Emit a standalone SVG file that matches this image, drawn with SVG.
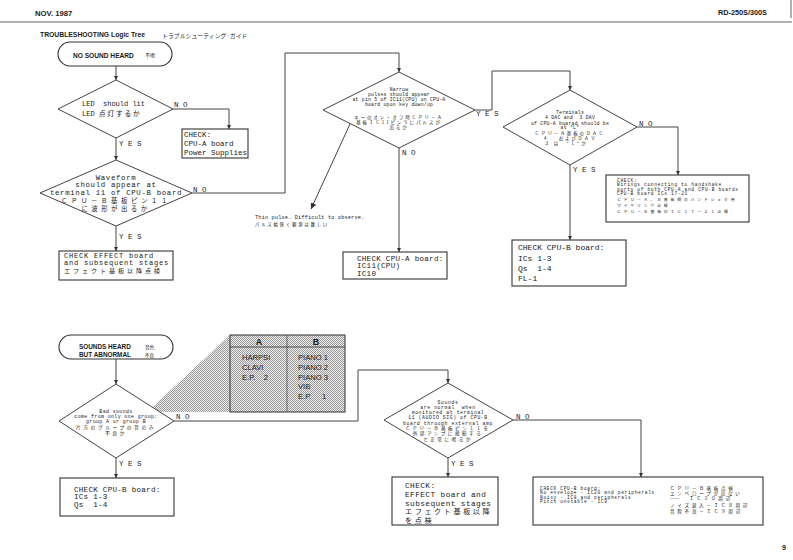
<svg xmlns="http://www.w3.org/2000/svg" width="793" height="560" viewBox="0 0 793 560">
<defs>
<style>
.bg{fill:#fff}
.ln{fill:none;stroke:#444;stroke-width:1}
.bx{fill:#fff;stroke:#333;stroke-width:1.1}
.dm{fill:#fff;stroke:#444;stroke-width:1}
.tw{font-family:"Liberation Mono","Noto Sans CJK JP",monospace;fill:#1a1a1a;white-space:pre}
.jp{font-family:"Noto Sans CJK JP",sans-serif;fill:#1a1a1a;white-space:pre}
.sb{font-family:"Liberation Sans","Noto Sans CJK JP",sans-serif;font-weight:bold;fill:#1a1a1a}
.sn{font-family:"Liberation Sans",sans-serif;fill:#222}
.c{text-anchor:middle}
</style>
<marker id="ah" viewBox="0 0 6 6" refX="6" refY="3" markerWidth="4" markerHeight="4" orient="auto" markerUnits="userSpaceOnUse">
<path d="M0,0 L6,3 L0,6 z" fill="#333"/>
</marker>
<marker id="ah2" viewBox="0 0 6 6" refX="6" refY="3" markerWidth="6" markerHeight="6" orient="auto" markerUnits="userSpaceOnUse">
<path d="M0,0 L6,3 L0,6 z" fill="#333"/>
</marker>
<pattern id="dots" width="2" height="2" patternUnits="userSpaceOnUse">
<rect width="2" height="2" fill="#eeeeee"/>
<rect width="1" height="1" fill="#9a9a9a"/>
<rect x="1" y="1" width="1" height="1" fill="#9a9a9a"/>
</pattern>
</defs>
<rect class="bg" width="793" height="560"/>

<g id="header">
<text class="sb" x="35" y="16" font-size="7.7">NOV. 1987</text>
<text class="sb" x="767" y="15" font-size="7.3" text-anchor="end">RD-250S/300S</text>
<line x1="0" y1="22" x2="792" y2="22" stroke="#666" stroke-width="1.2"/>
<line x1="791" y1="0" x2="791" y2="18" stroke="#666" stroke-width="1"/>
<text class="sb" x="40" y="37" font-size="6.8">TROUBLESHOOTING Logic Tree</text>
<text class="jp" x="162" y="37.5" font-size="5.9">トラブルシューティング·ガイド</text>
<text class="sb" x="786" y="550" font-size="7" text-anchor="end">9</text>
</g>

<g id="connectors">
<path class="ln" d="M116,66 V80" marker-end="url(#ah)"/>
<path class="ln" d="M173,109 H229 V129" marker-end="url(#ah)"/>
<path class="ln" d="M116,138 V160" marker-end="url(#ah)"/>
<path class="ln" d="M192,193 H285 V53 H399 V72" marker-end="url(#ah)"/>
<path class="ln" d="M116,226 V251" marker-end="url(#ah)"/>
<path class="ln" d="M475,110 H492 V71 H570 V90" marker-end="url(#ah)"/>
<path class="ln" d="M399,148 V252" marker-end="url(#ah)"/>
<path class="ln" d="M350,124 L311,209" marker-end="url(#ah2)"/>
<path class="ln" d="M637,127 H678 V175" marker-end="url(#ah)"/>
<path class="ln" d="M570,165 V240" marker-end="url(#ah)"/>
<path class="ln" d="M116,359 V384" marker-end="url(#ah)"/>
<path class="ln" d="M116,458 V478" marker-end="url(#ah)"/>
<path class="ln" d="M174,421 H358 V370 H448 V383" marker-end="url(#ah)"/>
<path class="ln" d="M448,458 V477" marker-end="url(#ah)"/>
<path class="ln" d="M513,420 H641 V477" marker-end="url(#ah)"/>
<text class="tw" x="174" y="107" font-size="7.5">N O</text>
<text class="tw" x="119" y="146" font-size="7.5">Y E S</text>
<text class="tw" x="193" y="192" font-size="7.5">N O</text>
<text class="tw" x="119" y="239" font-size="7.5">Y E S</text>
<text class="tw" x="476" y="116" font-size="7.5">Y E S</text>
<text class="tw" x="402" y="155" font-size="7.5">N O</text>
<text class="tw" x="639" y="126" font-size="7.5">N O</text>
<text class="tw" x="573" y="172" font-size="7.5">Y E S</text>
<text class="tw" x="176" y="419" font-size="7.5">N O</text>
<text class="tw" x="119" y="466" font-size="7.5">Y E S</text>
<text class="tw" x="516" y="419" font-size="7.5">N O</text>
<text class="tw" x="451" y="466" font-size="7.5">Y E S</text>
</g>

<g id="n-no-sound">
<rect class="bx" x="58" y="42" width="114" height="24" rx="12"/>
<text class="sb" x="73" y="57.5" font-size="6.6">NO SOUND HEARD</text>
<text class="jp" x="145" y="57" font-size="5">不鳴</text>
</g>

<g id="n-led">
<polygon class="dm" points="116,80 173,109 116,138 58,109"/>
<text class="tw" x="82" y="106" font-size="7">LED  should lit</text>
<text class="tw" x="82" y="115.5" font-size="7">LED <tspan class="jp" font-size="7" letter-spacing="1.5">点灯するか</tspan></text>
</g>

<g id="n-check-power">
<rect class="bx" x="182" y="129" width="66" height="29" stroke="#555"/>
<text class="tw" x="184" y="137" font-size="7.5" fill="#444">CHECK:</text>
<text class="tw" x="184" y="146" font-size="7.5" fill="#444">CPU-A board</text>
<text class="tw" x="184" y="155" font-size="7.5" fill="#444">Power Supplies</text>
</g>

<g id="n-waveform">
<polygon class="dm" points="116,160 192,193 116,226 40,193"/>
<text class="tw c" x="116" y="179.5" font-size="7.4" letter-spacing="0.65">Waveform</text>
<text class="tw c" x="116" y="186.8" font-size="7.4" letter-spacing="0.65">should appear at</text>
<text class="tw c" x="116" y="194.5" font-size="7.4" letter-spacing="0.65">terminal 11 of CPU-B board</text>
<text class="jp c" x="116" y="202.5" font-size="6.4" letter-spacing="3.6">ＣＰＵ－Ｂ基板ピン１１</text>
<text class="jp c" x="116" y="210.5" font-size="6.4" letter-spacing="3.5">に波形が出るか</text>
</g>

<g id="n-check-effect">
<rect class="bx" x="59" y="251" width="114" height="29"/>
<text class="tw" x="64" y="258.3" font-size="7" letter-spacing="0.8">CHECK EFFECT board</text>
<text class="tw" x="64" y="265.1" font-size="7" letter-spacing="0.8">and subsequent stages</text>
<text class="jp" x="64" y="272.6" font-size="6.2" letter-spacing="2.8">エフェクト基板以降点検</text>
</g>

<g id="n-narrow">
<polygon class="dm" points="399,72 475,110 399,148 323,110"/>
<text class="tw c" x="399" y="91" font-size="4.8" letter-spacing="0.22">Narrow</text>
<text class="tw c" x="399" y="96" font-size="4.8" letter-spacing="0.22">pulses should appear</text>
<text class="tw c" x="399" y="101" font-size="4.8" letter-spacing="0.22">at pin 5 of IC11(CPU) on CPU-A</text>
<text class="tw c" x="399" y="106" font-size="4.8" letter-spacing="0.22">board upon key down/up</text>
<text class="jp c" x="399" y="119" font-size="4.4" letter-spacing="2">キーのオン・オフ時ＣＰＵ－Ａ</text>
<text class="jp c" x="399" y="124" font-size="4.4" letter-spacing="2">基板ＩＣ11ピン５にパルスが</text>
<text class="jp c" x="399" y="129" font-size="4.4" letter-spacing="2">出るか</text>
</g>

<g id="n-thin-pulse">
<text class="tw" x="255" y="219.3" font-size="5.2" letter-spacing="0.2">Thin pulse. Difficult to observe.</text>
<text class="jp" x="255" y="225.8" font-size="4.2" letter-spacing="2">パルス幅狭く観測は難しい</text>
</g>

<g id="n-check-cpua">
<rect class="bx" x="343" y="252" width="104" height="27"/>
<text class="tw" x="357" y="260.5" font-size="7.6" letter-spacing="0.25">CHECK CPU-A board:</text>
<text class="tw" x="357" y="268" font-size="7.6" letter-spacing="0.25">IC11(CPU)</text>
<text class="tw" x="357" y="275.5" font-size="7.6" letter-spacing="0.25">IC10</text>
</g>

<g id="n-terminals">
<polygon class="dm" points="570,90 637,127 570,165 503,127"/>
<text class="tw c" x="570" y="114" font-size="4.8" letter-spacing="0.25">Terminals</text>
<text class="tw c" x="570" y="119" font-size="4.8" letter-spacing="0.25">4 DAC and  3 DAV</text>
<text class="tw c" x="570" y="124.5" font-size="4.8" letter-spacing="0.25">of CPU-A boarad should be</text>
<text class="tw c" x="570" y="129" font-size="4.8" letter-spacing="0.25">at "L"</text>
<text class="jp c" x="570" y="135" font-size="4.4" letter-spacing="2">ＣＰＵ－Ａ基板のＤＡＣ</text>
<text class="jp c" x="570" y="140" font-size="4.4" letter-spacing="2">４　 およびＤＡＶ</text>
<text class="jp c" x="566" y="145" font-size="4.4" letter-spacing="2">３ は　"Ｌ"か</text>
</g>

<g id="n-check-wirings">
<rect class="bx" x="606" y="175" width="143" height="47"/>
<text class="tw" x="617" y="181.6" font-size="4.5" letter-spacing="0.68">CHECK:</text>
<text class="tw" x="617" y="186.1" font-size="4.5" letter-spacing="0.68">Wirings connecting to handshake</text>
<text class="tw" x="617" y="190.6" font-size="4.5" letter-spacing="0.68">ports of both CPU-A and CPU-B boards</text>
<text class="tw" x="617" y="195.1" font-size="4.5" letter-spacing="0.68">CPU-B board ICs 17-21</text>
<text class="jp" x="617" y="201.2" font-size="3.9" letter-spacing="2.8">ＣＰＵ－Ａ、Ｂ基板間のハンドシェク用</text>
<text class="jp" x="617" y="207" font-size="3.9" letter-spacing="2.8">ワイヤリング点検</text>
<text class="jp" x="617" y="212.8" font-size="3.9" letter-spacing="2.8">ＣＰＵ－Ｂ基板のＩＣ１７－２１点検</text>
</g>

<g id="n-check-cpub-1">
<rect class="bx" x="512" y="240" width="114" height="46"/>
<text class="tw" x="518" y="250" font-size="8">CHECK CPU-B board:</text>
<text class="tw" x="518" y="261" font-size="8">ICs 1-3</text>
<text class="tw" x="518" y="271" font-size="8">Qs  1-4</text>
<text class="tw" x="518" y="281" font-size="8">FL-1</text>
</g>

<g id="n-sounds-heard">
<rect class="bx" x="59" y="335" width="114" height="24" rx="12"/>
<text class="sb" x="79" y="349" font-size="6.4">SOUNDS HEARD</text>
<text class="sb" x="79" y="357.3" font-size="6.4">BUT ABNORMAL</text>
<text class="jp" x="145" y="349" font-size="4.6">音色</text>
<text class="jp" x="145" y="357.3" font-size="4.6">不良</text>
</g>

<g id="n-table">
<polygon points="230,335 147,412 345,412 345,335" fill="url(#dots)"/>
<rect x="230" y="335" width="115" height="77" fill="none" stroke="#333" stroke-width="1"/>
<line x1="287" y1="335" x2="287" y2="412" stroke="#555" stroke-width="0.8"/>
<line x1="230" y1="347" x2="345" y2="347" stroke="#333" stroke-width="0.8"/>
<text class="sb c" x="259" y="345" font-size="9">A</text>
<text class="sb c" x="316" y="345" font-size="9">B</text>
<text class="sn" x="242" y="360" font-size="7.6">HARPSI</text>
<text class="sn" x="242" y="370" font-size="7.6">CLAVI</text>
<text class="sn" x="242" y="379.5" font-size="7.6" xml:space="preserve">E.P.    2</text>
<text class="sn" x="298" y="360" font-size="7.6">PIANO  1</text>
<text class="sn" x="298" y="370" font-size="7.6">PIANO  2</text>
<text class="sn" x="298" y="379.5" font-size="7.6">PIANO  3</text>
<text class="sn" x="298" y="389" font-size="7.6">VIB</text>
<text class="sn" x="298" y="398.5" font-size="7.6" xml:space="preserve">E.P.     1</text>
</g>

<g id="n-bad-sounds">
<polygon class="dm" points="116,384 174,421 116,458 59,421"/>
<text class="tw c" x="116" y="413" font-size="4.9" letter-spacing="0.4">Bad sounds</text>
<text class="tw c" x="116" y="418" font-size="4.9" letter-spacing="0.4">come from only one group:</text>
<text class="tw c" x="116" y="423" font-size="4.9" letter-spacing="0.4">group A or group B</text>
<text class="jp c" x="116" y="429" font-size="4.8" letter-spacing="2.5">片方のグループの音のみ</text>
<text class="jp c" x="116" y="434.6" font-size="4.8" letter-spacing="2.5">不良か</text>
</g>

<g id="n-check-cpub-2">
<rect class="bx" x="60" y="478" width="114" height="38"/>
<text class="tw" x="74" y="492" font-size="7.6" letter-spacing="0.25">CHECK CPU-B board:</text>
<text class="tw" x="74" y="499.3" font-size="7.6" letter-spacing="0.25">ICs 1-3</text>
<text class="tw" x="74" y="506.7" font-size="7.6" letter-spacing="0.25">Qs  1-4</text>
</g>

<g id="n-sounds-normal">
<polygon class="dm" points="448,383 513,420 448,458 384,420"/>
<text class="tw c" x="448" y="403.5" font-size="4.8" letter-spacing="0.58">Sounds</text>
<text class="tw c" x="448" y="409" font-size="4.8" letter-spacing="0.58">are normal  when</text>
<text class="tw c" x="448" y="414.3" font-size="4.8" letter-spacing="0.58">monitored at terminal</text>
<text class="tw c" x="448" y="419.4" font-size="4.8" letter-spacing="0.58">11 (AUDIO SIG) of CPU-B</text>
<text class="tw c" x="448" y="424.5" font-size="4.8" letter-spacing="0.58">board through external amp</text>
<text class="jp c" x="448" y="430" font-size="4.6" letter-spacing="2.5">ＣＰＵ－Ｂ基板ピン１１を</text>
<text class="jp c" x="448" y="435.3" font-size="4.6" letter-spacing="2.5">外部アンプに接続する</text>
<text class="jp c" x="448" y="440.6" font-size="4.6" letter-spacing="2.5">と正常に鳴るか</text>
</g>

<g id="n-check-effect-2">
<rect class="bx" x="392" y="477" width="106" height="48"/>
<text class="tw" x="405" y="488" font-size="7.8" letter-spacing="0.4">CHECK:</text>
<text class="tw" x="405" y="497.2" font-size="7.8" letter-spacing="0.4">EFFECT board and</text>
<text class="tw" x="405" y="505.7" font-size="7.8" letter-spacing="0.4">subsequent stages</text>
<text class="jp" x="405" y="514.2" font-size="7.2" letter-spacing="2.5">エフェクト基板以降</text>
<text class="jp" x="405" y="523" font-size="7.2" letter-spacing="2.5">を点検</text>
</g>

<g id="n-check-cpub-3">
<rect class="bx" x="533" y="477" width="230" height="48"/>
<text class="tw" x="540" y="490" font-size="4.5" letter-spacing="0.68">CHECK CPU-B board:</text>
<text class="tw" x="540" y="494.3" font-size="4.5" letter-spacing="0.68">No envelope - IC20 and peripherals</text>
<text class="tw" x="540" y="498.6" font-size="4.5" letter-spacing="0.68">Noisy - IC8 and peripherals</text>
<text class="tw" x="540" y="502.9" font-size="4.5" letter-spacing="0.68">Pitch unstable - IC9</text>
<text class="jp" x="670" y="490.2" font-size="4.6" letter-spacing="2.7">ＣＰＵ－Ｂ基板点検</text>
<text class="jp" x="670" y="495.3" font-size="4.6" letter-spacing="2.7">エンベロープが出ない</text>
<text class="jp" x="670" y="500.4" font-size="4.6" letter-spacing="2.7">――　ＩＣ２０周辺</text>
<text class="jp" x="670" y="507" font-size="4.6" letter-spacing="2.7">ノイズ混入－ＩＣ８周辺</text>
<text class="jp" x="670" y="512.8" font-size="4.6" letter-spacing="2.7">音程不良－ＩＣ９周辺</text>
</g>
</svg>
